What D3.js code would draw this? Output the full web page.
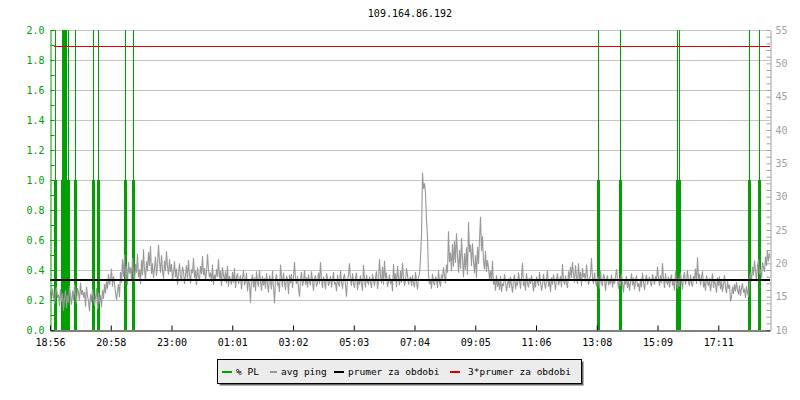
<!DOCTYPE html>
<meta charset="utf-8">
<style>
  body { margin: 0; background: #fff; }
  svg { display: block; }
</style>
<svg width="800" height="400"></svg>
<script src="https://cdn.jsdelivr.net/npm/d3@7"></script>
<script>

var title = "109.164.86.192";

// time axis labels, one every 121.5 minutes from the start of the 24h window
var tickLabels = ["18:56", "20:58", "23:00", "01:01", "03:02", "05:03",
                  "07:04", "09:05", "11:06", "13:08", "15:09", "17:11"];

// avg ping in ms, one sample every 2 minutes starting 18:56
var pingMs = [
  15.8,14.6,16.2,15.0,13.9,15.7,16.4,14.8,15.3,13.6,16.1,14.2,15.5,12.9,14.7,16.0,13.3,15.2,14.1,16.6,
  15.0,13.8,15.9,14.5,16.8,15.2,14.0,16.3,15.6,14.4,17.1,15.3,16.0,14.9,15.7,13.5,16.5,15.1,14.3,12.8,
  15.4,14.2,16.1,15.0,13.7,14.8,16.3,13.1,15.6,14.0,15.2,13.4,16.0,14.7,16.9,15.5,17.3,16.2,18.4,16.8,
  17.6,19.2,16.5,18.1,17.0,15.6,14.5,15.8,16.9,14.9,18.7,17.1,20.6,18.0,21.3,17.4,19.6,16.8,20.2,18.5,
  19.4,17.6,20.8,18.3,17.2,19.9,18.6,21.4,17.9,19.1,16.9,20.5,18.2,22.1,19.0,17.5,20.3,18.8,21.7,19.6,
  22.6,18.4,20.0,17.8,19.3,21.0,18.1,19.8,22.8,20.2,18.6,21.2,19.0,17.7,20.4,18.9,21.8,19.5,18.3,20.6,
  18.7,19.9,17.4,18.6,20.3,17.9,19.2,16.8,18.4,20.0,18.1,17.3,19.5,18.8,16.9,18.2,19.7,17.6,20.5,18.3,
  17.0,19.1,18.5,20.8,17.8,18.9,16.7,19.4,18.0,17.5,19.6,18.4,21.1,18.2,19.3,17.4,18.7,21.4,19.0,17.9,
  18.6,17.2,19.8,16.8,18.3,17.5,19.1,18.0,20.6,17.7,18.9,16.6,19.4,18.2,17.3,18.8,17.0,19.6,16.5,18.1,
  17.4,16.8,18.7,17.1,19.3,16.3,17.9,18.5,16.9,17.6,18.2,16.1,17.8,19.0,16.7,17.3,18.6,15.8,17.5,16.9,
  14.1,17.6,18.3,16.4,17.9,15.8,18.8,17.2,16.5,19.0,17.4,15.9,18.1,16.7,17.8,16.2,18.5,17.0,15.6,18.2,
  17.3,16.1,18.9,16.6,14.0,17.5,18.4,16.8,17.1,15.7,19.8,17.9,16.4,18.6,17.2,16.0,18.0,17.7,15.4,18.3,
  17.0,18.4,16.3,17.8,20.2,17.5,16.9,18.1,16.2,15.0,17.6,18.7,16.6,17.3,19.0,16.8,17.9,16.4,18.3,17.2,
  16.7,18.8,17.4,15.9,17.7,18.2,16.5,17.1,18.6,16.9,20.2,17.6,16.3,18.0,17.4,16.1,18.5,17.8,16.6,17.3,
  18.1,16.4,17.5,18.7,16.8,17.2,15.8,18.3,17.0,16.5,18.9,17.3,16.2,17.8,18.4,16.7,15.0,17.6,18.2,20.0,
  17.4,16.6,18.5,17.1,16.3,17.9,18.6,16.0,17.5,16.8,18.2,17.0,15.9,19.8,17.6,16.4,18.3,17.2,16.9,18.0,
  17.1,16.3,18.4,17.5,16.6,17.9,18.8,16.2,17.4,20.6,18.1,17.0,19.5,16.8,20.4,17.7,18.6,16.5,17.2,18.3,
  16.9,17.6,15.8,19.9,17.3,18.5,16.4,19.6,17.8,16.7,18.9,17.1,20.1,18.0,16.6,17.4,19.3,18.2,16.8,17.7,
  17.9,16.6,18.2,17.0,16.4,18.7,17.3,16.1,17.8,18.5,20.8,24.3,33.6,31.2,32.0,30.5,26.5,24.0,18.3,16.9,
  17.5,16.2,18.4,17.1,16.7,18.0,17.6,16.3,18.9,17.2,16.5,18.3,17.7,19.4,18.1,17.0,19.8,18.6,24.8,20.2,
  21.6,18.8,22.9,19.5,23.4,20.1,24.5,21.3,18.6,22.0,19.2,23.8,20.7,17.9,21.5,19.0,22.4,18.3,26.2,21.7,
  22.8,19.6,23.0,20.4,18.5,21.2,17.8,22.5,19.9,23.6,27.0,21.8,24.1,20.3,19.1,21.9,18.7,20.5,19.4,17.6,
  18.9,17.3,20.4,16.8,17.6,15.9,18.2,16.5,17.4,16.0,18.1,15.7,17.0,16.6,18.4,17.2,15.8,16.9,17.7,16.3,
  18.0,16.7,15.6,17.5,18.3,16.1,17.1,16.8,18.6,17.4,16.2,17.9,20.1,16.6,17.3,15.9,18.5,17.0,16.4,17.8,
  16.9,18.2,17.1,15.8,17.6,16.4,18.0,17.3,16.6,18.7,17.2,15.9,16.8,18.4,17.0,16.2,17.7,18.9,16.5,17.4,
  15.7,17.9,16.8,18.3,17.1,16.0,17.6,18.5,16.7,17.3,18.1,16.4,19.9,17.5,16.8,18.2,17.0,16.3,18.8,17.6,
  19.5,17.8,20.2,18.4,17.1,19.7,18.0,16.9,20.0,17.5,18.7,16.6,19.3,17.9,18.5,17.2,19.8,18.1,16.8,17.6,
  18.3,20.8,17.7,16.9,18.6,17.3,16.5,18.0,17.4,16.2,18.9,17.1,16.6,18.4,17.8,15.9,17.5,18.2,16.7,17.3,
  17.0,18.3,16.4,17.7,16.9,18.0,19.1,17.5,16.2,17.8,16.6,18.4,17.1,15.6,17.4,16.8,18.1,16.3,17.6,15.9,
  17.2,18.5,16.7,17.9,16.1,17.3,18.2,16.5,17.0,15.8,17.7,16.4,18.6,17.2,16.0,17.5,18.3,16.8,17.4,18.0,
  17.1,16.5,18.4,17.6,16.8,18.1,17.3,19.5,17.8,16.6,18.2,17.0,20.0,17.7,16.3,18.5,17.2,16.9,18.0,16.4,
  17.6,18.3,16.7,17.4,15.9,18.8,17.1,16.2,17.8,16.5,18.6,17.3,16.1,17.9,18.7,16.8,17.5,19.0,17.2,16.6,
  18.3,17.0,16.5,18.1,17.4,19.2,16.9,20.9,17.6,18.4,16.7,17.9,18.8,16.4,17.3,15.9,18.2,17.1,16.6,17.8,
  15.8,17.0,18.5,16.3,17.5,16.8,15.6,17.9,16.6,18.0,16.1,17.4,15.7,16.9,18.2,16.4,15.5,17.3,16.2,16.8,
  14.3,14.9,16.5,15.4,16.9,15.8,17.2,16.0,15.3,16.7,15.1,16.3,17.0,15.6,16.2,14.8,16.6,15.5,15.0,17.4,
  18.6,17.3,19.5,18.2,20.4,18.8,17.5,19.7,20.6,18.4,19.1,17.8,20.2,19.4,18.7,21.0,19.6,22.0,20.3,21.5
];

// packet loss events: minutes after start, and % lost
var plMinutes = [9, 23, 25, 27, 29, 31, 36, 49, 86, 96, 150, 166, 1096, 1140, 1254, 1258, 1398, 1418];
var plValues  = [10, 10, 10, 10, 10, 10, 10, 10, 10, 10, 10, 10, 10, 10, 10, 10, 10, 10];

var meanPing = 17.5;

var legendLabels = ["% PL", "avg ping", "prumer za obdobi", "3*prumer za obdobi"];

var green = "#00a000", gray = "#999999", grid = "#c4c4c4", red = "#d80000",
    mono = "'DejaVu Sans Mono', monospace";

var svg = d3.select("svg");

var start = new Date(2020, 0, 1, 18, 56),
    end = d3.timeMinute.offset(start, 1440);

var x = d3.scaleTime().domain([start, end]).range([50, 770]);
var yL = d3.scaleLinear().domain([0, 2]).range([330, 30]);
var yR = d3.scaleLinear().domain([10, 55]).range([330, 30]);

// title
svg.append("text")
    .attr("x", 410).attr("y", 17)
    .attr("text-anchor", "middle")
    .attr("font-family", mono).attr("font-size", 10)
    .text(title);

// horizontal grid
svg.append("g")
  .selectAll("line")
    .data(d3.range(1, 11).map(function(i) { return i / 5; }))
  .enter().append("line")
    .attr("x1", 50).attr("x2", 770)
    .attr("y1", function(d) { return Math.round(yL(d)) + 0.5; })
    .attr("y2", function(d) { return Math.round(yL(d)) + 0.5; })
    .attr("stroke", grid);

// packet loss, thin line clipped at top, thick part up to 1.0
var pl = svg.append("g");
plMinutes.forEach(function(m, i) {
  var px = Math.round(x(d3.timeMinute.offset(start, m))) + 0.5;
  var v = plValues[i];
  pl.append("line")
      .attr("x1", px).attr("x2", px)
      .attr("y1", yL(0)).attr("y2", yL(Math.min(v, 2)))
      .attr("stroke", green).attr("stroke-width", 1);
  pl.append("line")
      .attr("x1", px).attr("x2", px)
      .attr("y1", yL(0)).attr("y2", yL(Math.min(v, 1)))
      .attr("stroke", green).attr("stroke-width", 3);
});

// avg ping
var line = d3.line()
    .x(function(d, i) { return x(d3.timeMinute.offset(start, i * 2)) + 0.5; })
    .y(function(d) { return yR(d); });

svg.append("path")
    .datum(pingMs)
    .attr("fill", "none")
    .attr("stroke", gray)
    .attr("stroke-width", 1.1)
    .attr("d", line);

// mean and 3*mean
svg.append("line")
    .attr("x1", 50).attr("x2", 770)
    .attr("y1", yR(meanPing)).attr("y2", yR(meanPing))
    .attr("stroke", "#000").attr("stroke-width", 2);

svg.append("line")
    .attr("x1", 54).attr("x2", 770)
    .attr("y1", Math.round(yR(3 * meanPing)) - 0.5).attr("y2", Math.round(yR(3 * meanPing)) - 0.5)
    .attr("stroke", red).attr("stroke-width", 1);

// axes
var leftAxis = svg.append("g")
    .attr("transform", "translate(50.5,0)")
    .call(d3.axisLeft(yL)
      .tickValues(d3.range(0, 21).map(function(i) { return i / 10; }))
      .tickSizeInner(-4).tickSizeOuter(0).tickPadding(6)
      .tickFormat(function(d, i) { return i % 2 ? "" : d3.format(".1f")(d); }));
leftAxis.attr("font-family", mono).attr("font-size", 10);
leftAxis.selectAll("path, line").attr("stroke", green);
leftAxis.selectAll("text").attr("fill", green);

var rightAxis = svg.append("g")
    .attr("transform", "translate(770.5,0)")
    .call(d3.axisRight(yR)
      .tickValues(d3.range(10, 56))
      .tickSizeInner(-4).tickSizeOuter(0).tickPadding(5)
      .tickFormat(function(d) { return d % 5 ? "" : d; }));
rightAxis.attr("font-family", mono).attr("font-size", 10);
rightAxis.selectAll("path, line").attr("stroke", "#a0a0a0");
rightAxis.selectAll("text").attr("fill", "#a0a0a0");

var bottomAxis = svg.append("g")
    .attr("transform", "translate(0,330.5)")
    .call(d3.axisBottom(x)
      .tickValues(tickLabels.map(function(d, i) { return new Date(+start + i * 121.5 * 60000); }))
      .tickSizeInner(-5).tickSizeOuter(0).tickPadding(8)
      .tickFormat(function(d, i) { return tickLabels[i]; }));
bottomAxis.attr("font-family", mono).attr("font-size", 10);
bottomAxis.selectAll("path, line").attr("stroke", "#000");
bottomAxis.selectAll("text").attr("fill", "#000");

// legend
var legend = svg.append("g").attr("font-family", mono).attr("font-size", 9.5);
legend.append("rect")
    .attr("x", 219.5).attr("y", 361.5).attr("width", 364).attr("height", 24)
    .attr("fill", "#666");
legend.append("rect")
    .attr("x", 217.5).attr("y", 359.5).attr("width", 364).attr("height", 24)
    .attr("fill", "#ececec").attr("stroke", "#000");

var legendColors = [green, gray, "#000", red],
    swatchX = [222, 270, 334, 450],
    swatchW = [10, 7, 10, 10],
    textX = [236, 281, 348, 468];

legendLabels.forEach(function(label, i) {
  legend.append("rect")
      .attr("x", swatchX[i]).attr("y", 371)
      .attr("width", swatchW[i]).attr("height", 2)
      .attr("fill", legendColors[i]);
  legend.append("text")
      .attr("x", textX[i]).attr("y", 374.5)
      .text(label);
});

</script>
